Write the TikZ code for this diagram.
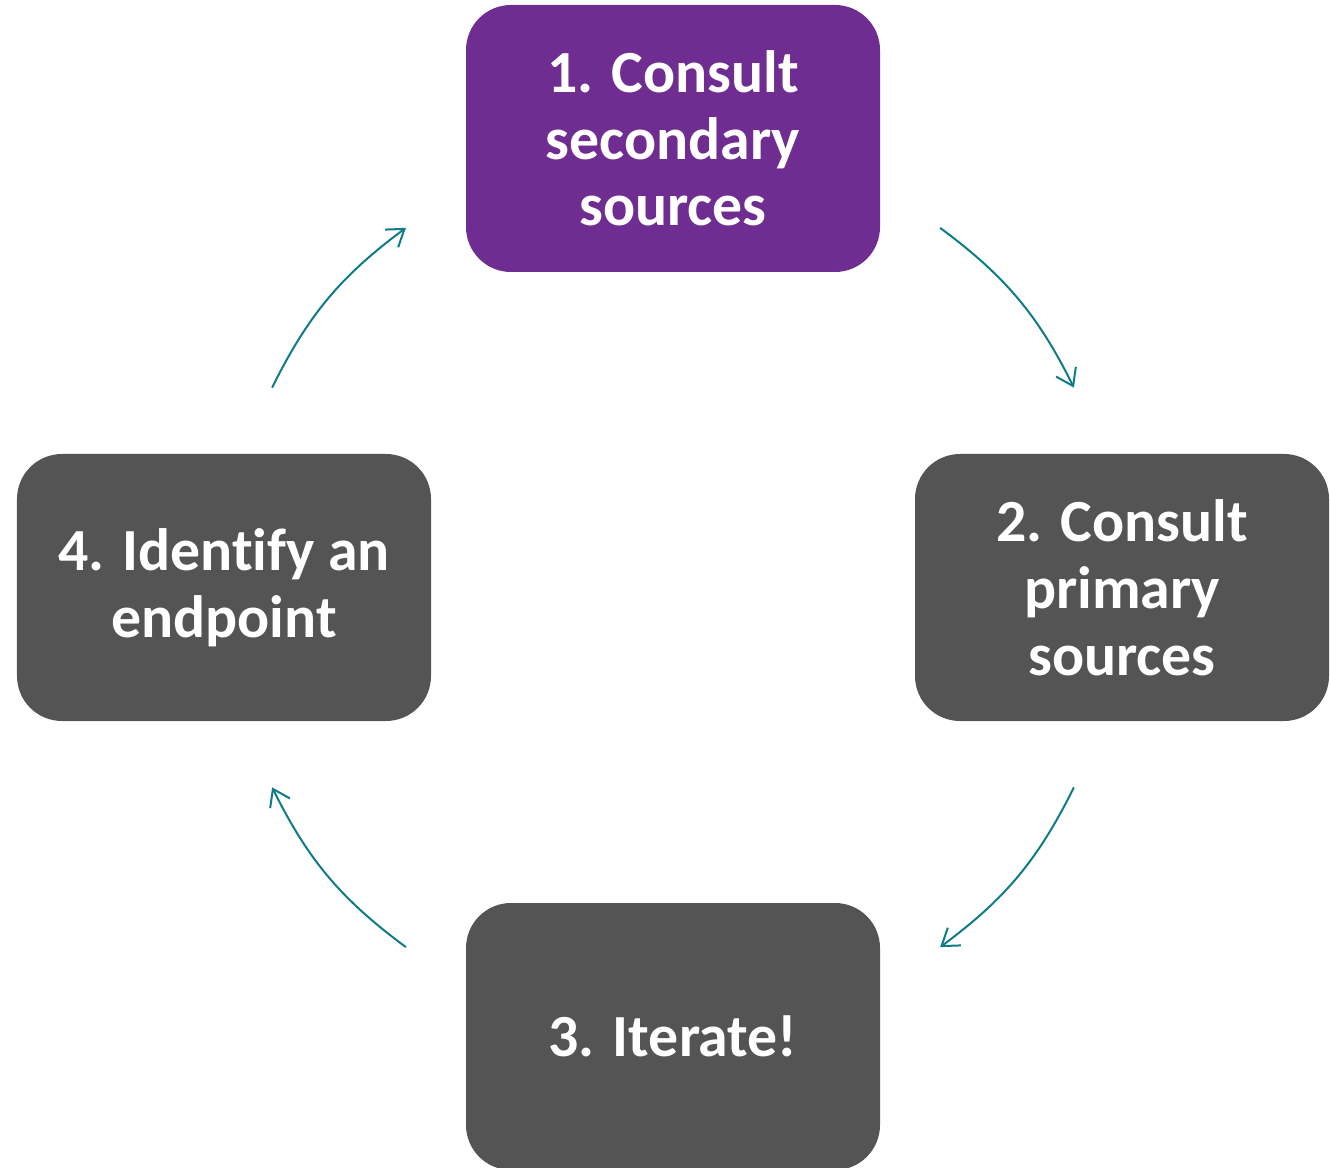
\documentclass[tikz,border=0pt]{standalone}
\usepackage{fontspec}
\setmainfont{Carlito}[Ligatures=NoCommon]
\usetikzlibrary{arrows.meta}
\definecolor{stagepurple}{HTML}{6F2C91}
\definecolor{stagegray}{HTML}{545454}
\definecolor{flowteal}{HTML}{0E7C86}
\begin{document}
\begin{tikzpicture}[x=1bp, y=1bp,
  stage/.style={rectangle, rounded corners=45bp, fill=stagegray, minimum width=414bp, minimum height=267bp, inner sep=0pt, text=white, align=center, font=\fontsize{60}{67}\selectfont\bfseries},
  flow/.style={draw=flowteal, line width=2bp, -{Straight Barb[length=16bp, width=22bp]}}]
\useasboundingbox (0,0) rectangle (1330,1167);
\node[stage, fill=stagepurple] (sid1) at (673,1028.5){1. Consult\\secondary\\sources};
\node[stage] (sid2) at (1122,579.5){2. Consult\\primary\\sources};
\node[stage] (sid3) at (673,130.5){3. Iterate!};
\node[stage] (sid4) at (224,579.5){4. Identify an\\endpoint};
\coordinate (hub) at (673,579.5);
\coordinate (fa1) at ([shift={(53.4:448)}]hub);
\coordinate (fb1) at ([shift={(26.5:448)}]hub);
\coordinate (fa2) at ([shift={(-26.5:448)}]hub);
\coordinate (fb2) at ([shift={(-53.4:448)}]hub);
\coordinate (fa3) at ([shift={(-126.6:448)}]hub);
\coordinate (fb3) at ([shift={(-153.5:448)}]hub);
\coordinate (fa4) at ([shift={(153.5:448)}]hub);
\coordinate (fb4) at ([shift={(126.6:448)}]hub);
\draw[flow] (fa1) to[bend left=13.5] (fb1);
\draw[flow] (fa2) to[bend left=13.5] (fb2);
\draw[flow] (fa3) to[bend left=13.5] (fb3);
\draw[flow] (fa4) to[bend left=13.5] (fb4);
\end{tikzpicture}
\end{document}
